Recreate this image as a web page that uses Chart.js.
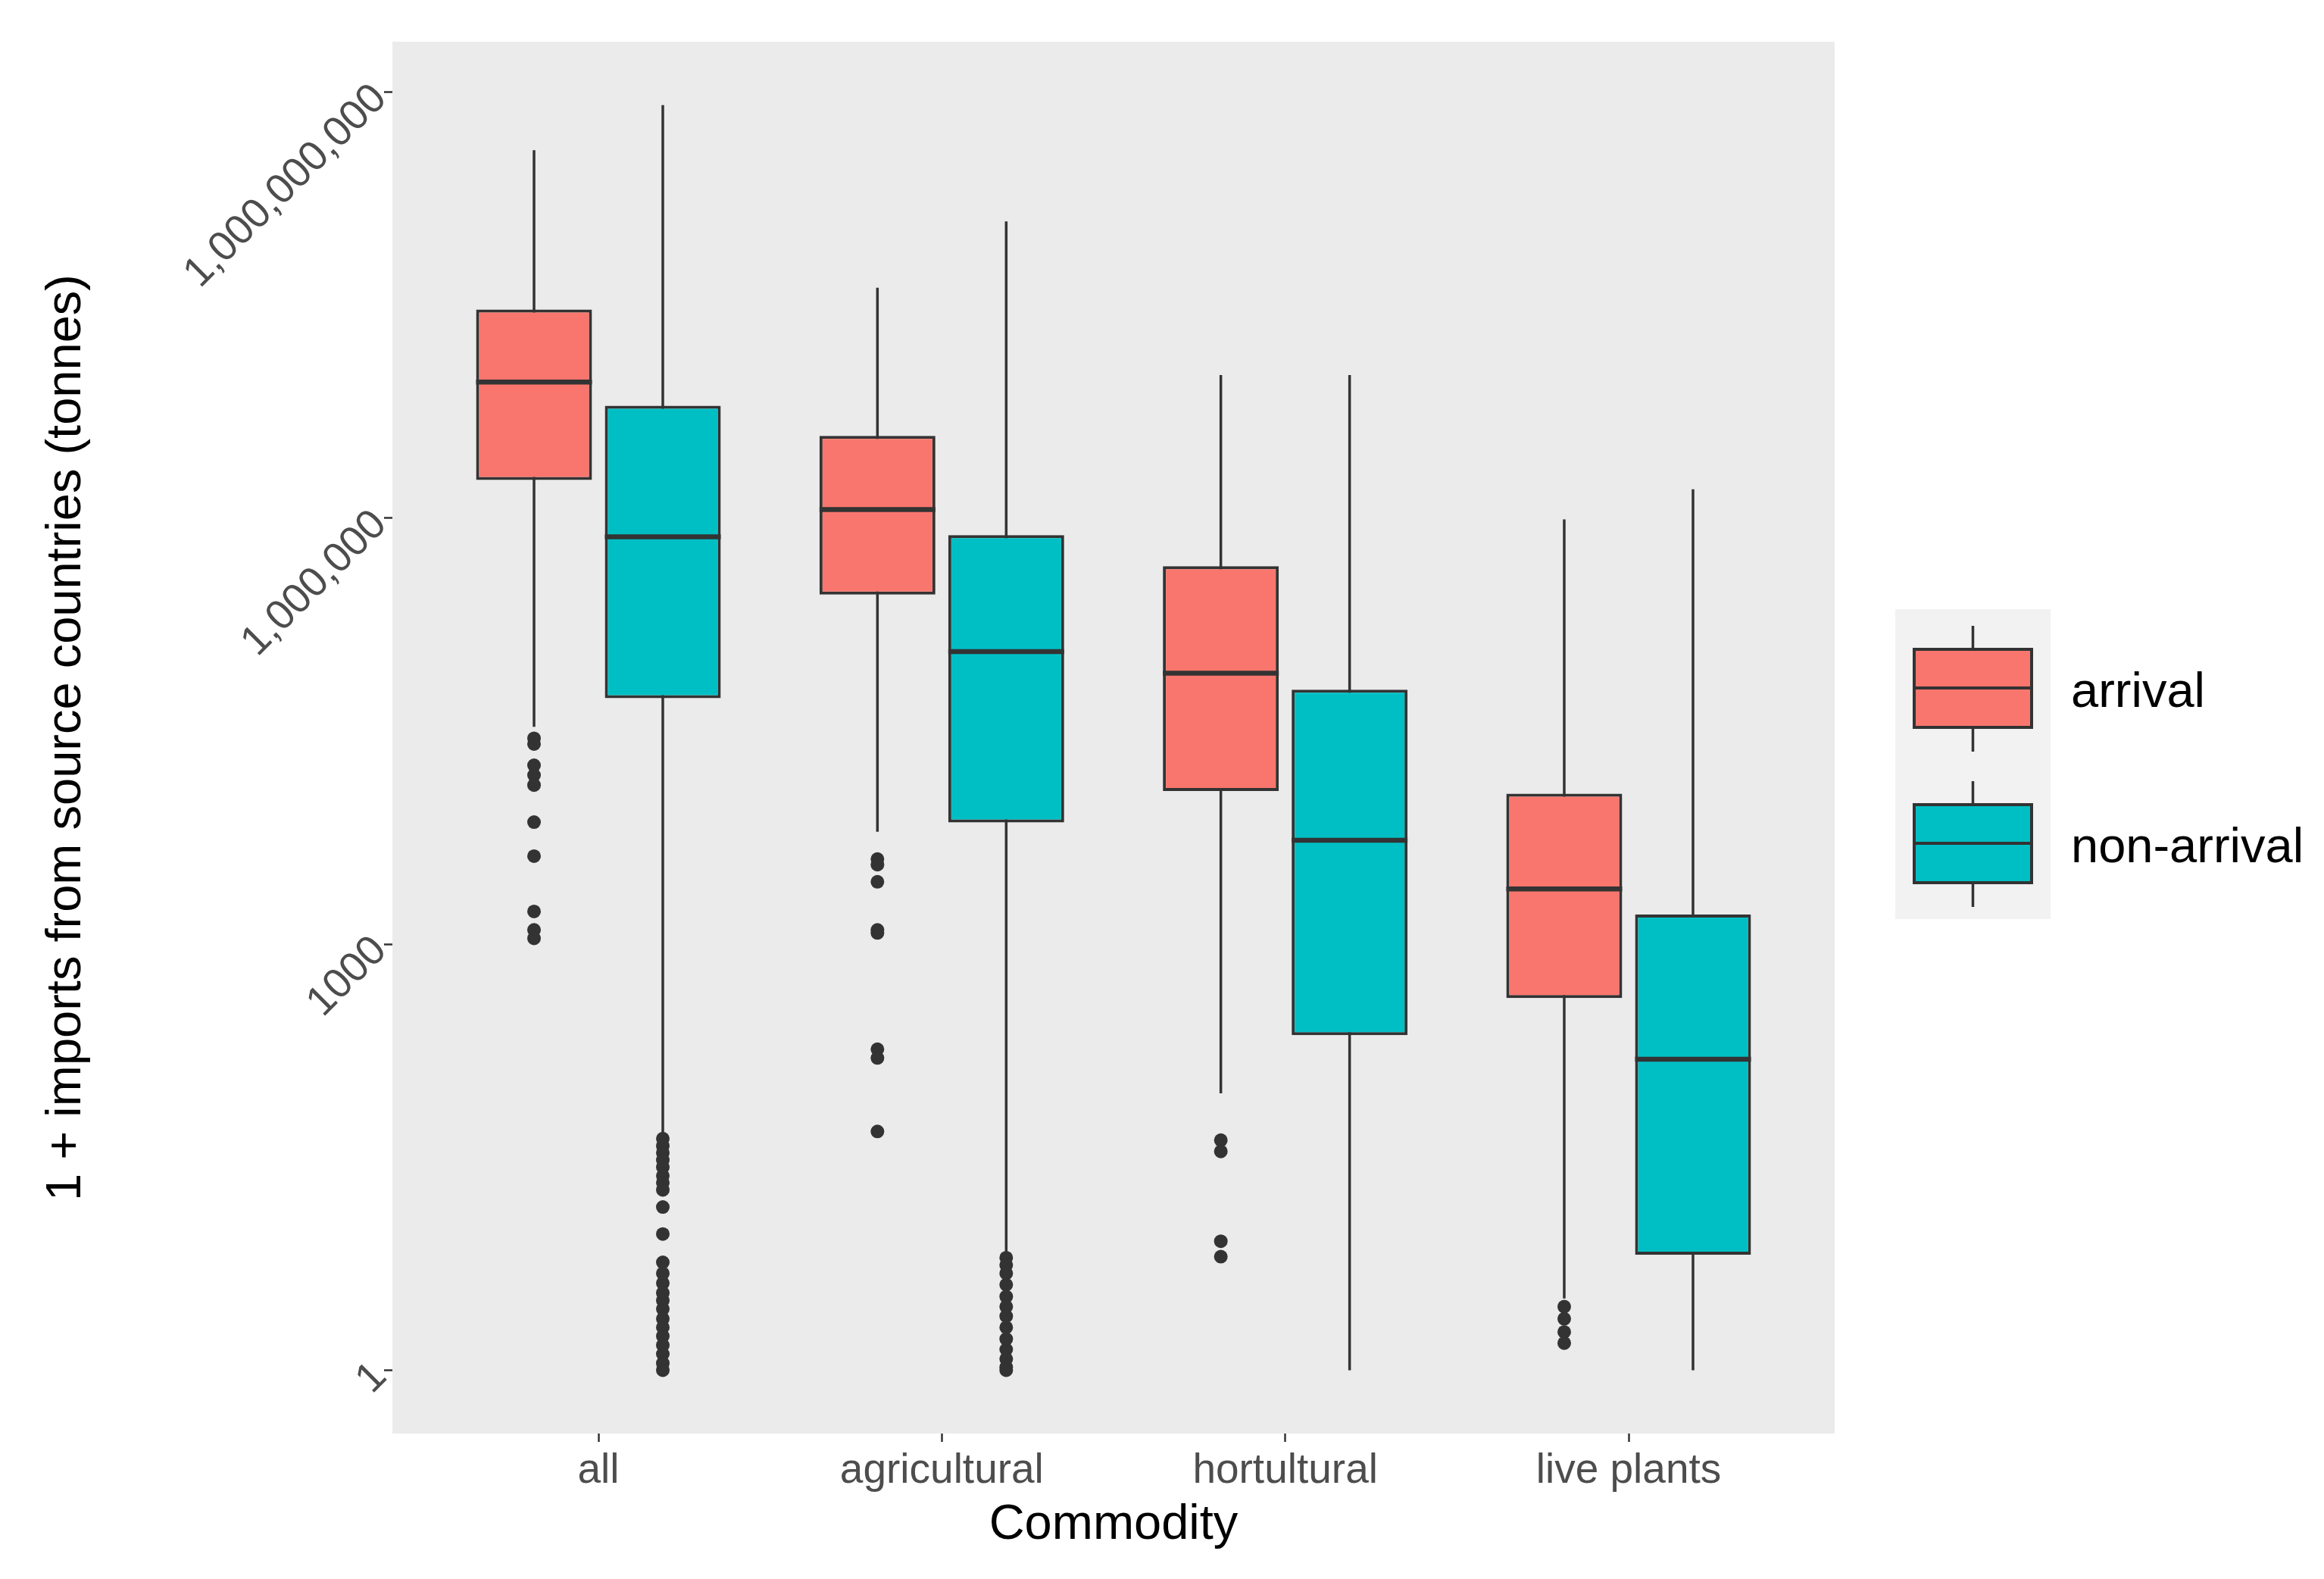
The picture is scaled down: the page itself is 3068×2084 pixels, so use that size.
<!DOCTYPE html>
<html>
<head>
<meta charset="utf-8">
<script src="https://cdn.jsdelivr.net/npm/chart.js@4.4.1/dist/chart.umd.min.js"></script>
<style>
  html, body { margin: 0; padding: 0; background: #fff; }
  #wrap { width: 3068px; height: 2084px; }
</style>
</head>
<body>
<div id="wrap"><canvas id="boxChart"></canvas></div>
<script>
const categories = ['all', 'agricultural', 'hortultural', 'live plants'];
const seriesNames = ['arrival', 'non-arrival'];
const seriesColors = ['#F8766D', '#00BFC4'];

// per category: [lower whisker, q1, median, q3, upper whisker]
const arrivalStats = [
  [34000, 1860000, 9100000, 29500000, 390000000],
  [6200, 290000, 1150000, 3800000, 42000000],
  [89, 12000, 81000, 460000, 10200000],
  [3.2, 417, 2450, 11500, 980000]
];
const nonArrivalStats = [
  [47, 54000, 740000, 6200000, 810000000],
  [6.6, 7200, 115000, 760000, 123000000],
  [1, 229, 5400, 62000, 10200000],
  [1, 6.5, 155, 1620, 1600000]
];

const arrivalOutliers = [
  [28200, 25700, 18200, 15500, 13200, 7240, 4170, 1700, 1260, 1100],
  [3980, 3630, 2750, 1260, 1200, 182, 158, 48],
  [41.7, 34.7, 8.1, 6.3],
  [2.8, 2.3, 1.86, 1.55]
];
const nonArrivalOutliers = [
  [42.7, 38, 33.9, 30.2, 26.9, 23.4, 20.9, 18.6, 14.1, 9.1, 5.75, 4.8, 4.1, 3.5, 3.1, 2.7, 2.3, 2.0, 1.74, 1.5, 1.3, 1.12, 1],
  [6.2, 5.5, 4.8, 4.0, 3.3, 2.8, 2.4, 2.0, 1.66, 1.4, 1.2, 1.05, 1],
  [],
  []
];

const yTickValues = [1, 1000, 1000000, 1000000000];
const yTickLabels = ['1', '1000', '1,000,000', '1,000,000,000'];

const FONT = '"Liberation Sans", Arial, sans-serif';
const DARK = '#333333';
const dodge = 0.1875;     // half of dodge width 0.75
const halfBox = 0.16875;  // half box width (0.9 * 0.375 / 2)

const stats = [arrivalStats, nonArrivalStats];
const outliers = [arrivalOutliers, nonArrivalOutliers];

function xPos(ci, si) {
    return ci + 1 + (si === 0 ? -dodge : dodge);
}

const datasets = [];
stats.forEach((s, si) => {
    // whiskers
    datasets.push({
        type: 'bar',
        data: s.map((r, ci) => ({ x: xPos(ci, si), y: [r[0], r[4]] })),
        backgroundColor: DARK,
        borderWidth: 0,
        maxBarThickness: 3.5,
        grouped: false,
        order: 5
    });
    // boxes
    datasets.push({
        type: 'bar',
        label: seriesNames[si],
        data: s.map((r, ci) => ({ x: xPos(ci, si), y: [r[1], r[3]] })),
        backgroundColor: seriesColors[si],
        borderColor: DARK,
        borderWidth: 4,
        borderSkipped: false,
        grouped: false,
        barPercentage: 0.9,
        categoryPercentage: 1,
        order: 4
    });
    // medians
    const med = [];
    s.forEach((r, ci) => {
        const x = xPos(ci, si);
        med.push({ x: x - halfBox, y: r[2] }, { x: x + halfBox, y: r[2] }, { x: x, y: null });
    });
    datasets.push({
        type: 'line',
        data: med,
        borderColor: DARK,
        borderWidth: 6.5,
        pointRadius: 0,
        fill: false,
        spanGaps: false,
        order: 3
    });
    // outliers
    const pts = [];
    outliers[si].forEach((arr, ci) => arr.forEach(v => pts.push({ x: xPos(ci, si), y: v })));
    datasets.push({
        type: 'scatter',
        data: pts,
        backgroundColor: DARK,
        borderWidth: 0,
        pointRadius: 9,
        order: 2
    });
});

// grey panel + ggplot-style legend
const panelAndLegend = {
    id: 'panelAndLegend',
    beforeDraw(chart) {
        const { ctx, chartArea: a } = chart;
        ctx.save();
        ctx.fillStyle = '#ffffff';
        ctx.fillRect(0, 0, chart.width, chart.height);
        ctx.fillStyle = '#EBEBEB';
        ctx.fillRect(a.left, a.top, a.right - a.left, a.bottom - a.top);
        ctx.restore();
    },
    afterDraw(chart) {
        const ctx = chart.ctx;
        const left = chart.chartArea.right + 80;
        const top = 804;
        const step = 205;
        ctx.save();
        ctx.fillStyle = '#F2F2F2';
        ctx.fillRect(left, top, 205, step * seriesNames.length - 1);
        seriesNames.forEach((name, i) => {
            const y0 = top + i * step;
            const bx = left + 25, bw = 155, cx = bx + bw / 2;
            ctx.strokeStyle = DARK;
            ctx.lineWidth = 3.5;
            ctx.beginPath();
            ctx.moveTo(cx, y0 + 22); ctx.lineTo(cx, y0 + 188);
            ctx.stroke();
            ctx.fillStyle = seriesColors[i];
            ctx.fillRect(bx, y0 + 53, bw, 103);
            ctx.lineWidth = 4;
            ctx.strokeRect(bx, y0 + 53, bw, 103);
            ctx.lineWidth = 4;
            ctx.beginPath();
            ctx.moveTo(bx, y0 + 104); ctx.lineTo(bx + bw, y0 + 104);
            ctx.stroke();
            ctx.fillStyle = '#000000';
            ctx.font = '65px ' + FONT;
            ctx.textBaseline = 'alphabetic';
            ctx.textAlign = 'left';
            ctx.fillText(name, left + 232, y0 + 129);
        });
        ctx.restore();
    }
};

const ctx = document.getElementById('boxChart').getContext('2d');
const boxChart = new Chart(ctx, {
    type: 'bar',
    data: { datasets: datasets },
    plugins: [panelAndLegend],
    options: {
        responsive: true,
        maintainAspectRatio: false,
        animation: false,
        devicePixelRatio: 1,
        layout: { padding: { top: 55, right: 646, bottom: 0, left: 0 } },
        plugins: {
            legend: { display: false },
            tooltip: { enabled: false }
        },
        scales: {
            x: {
                type: 'linear',
                min: 0.4,
                max: 4.6,
                offset: false,
                afterBuildTicks: (scale) => {
                    scale.ticks = categories.map((c, i) => ({ value: i + 1 }));
                },
                afterFit: (scale) => { scale.height = 192; },
                ticks: {
                    autoSkip: false,
                    minRotation: 0,
                    maxRotation: 0,
                    padding: 6,
                    color: '#4D4D4D',
                    font: { family: FONT, size: 55 },
                    callback: (v, i) => categories[i]
                },
                grid: {
                    offset: false,
                    drawOnChartArea: false,
                    tickLength: 11,
                    tickColor: DARK,
                    tickWidth: 2.5
                },
                border: { display: false },
                title: {
                    display: true,
                    text: 'Commodity',
                    color: '#000000',
                    font: { family: FONT, size: 65 },
                    padding: { top: 0, bottom: 32 }
                }
            },
            y: {
                type: 'logarithmic',
                min: 0.358,
                max: 2.27e9,
                afterBuildTicks: (scale) => {
                    scale.ticks = yTickValues.map(v => ({ value: v }));
                },
                afterFit: (scale) => { scale.width = 518; },
                ticks: {
                    autoSkip: false,
                    minRotation: 45,
                    maxRotation: 45,
                    padding: 5,
                    color: '#4D4D4D',
                    font: { family: FONT, size: 55 },
                    callback: (v, i) => yTickLabels[i]
                },
                grid: {
                    drawOnChartArea: false,
                    tickLength: 11,
                    tickColor: DARK,
                    tickWidth: 2.5
                },
                border: { display: false },
                title: {
                    display: true,
                    text: '1 + imports from source countries (tonnes)',
                    color: '#000000',
                    font: { family: FONT, size: 65 },
                    padding: { top: 49, bottom: 0 }
                }
            }
        }
    }
});
</script>
</body>
</html>
